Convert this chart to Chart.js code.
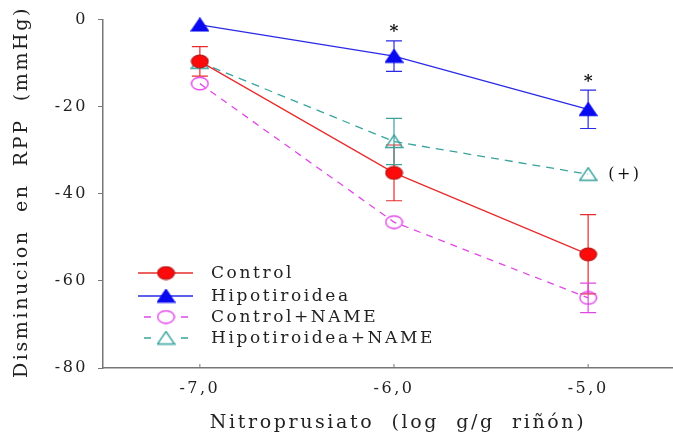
<!DOCTYPE html>
<html>
<head>
<meta charset="utf-8">
<script src="https://cdn.jsdelivr.net/npm/chart.js@4.4.1/dist/chart.umd.min.js"></script>
<style>
  html, body { margin: 0; padding: 0; background: #fff; overflow: hidden; }
  canvas { display: block; }
</style>
</head>
<body>
<canvas id="c" width="673" height="443"></canvas>
<script>
// Nitroprusiato dose (log g/g riñón)
const doses = [-7, -6, -5];
const doseLabels = ['-7,0', '-6,0', '-5,0'];

// Mean fall in RPP (mmHg) and standard error for each group
const control = [-9.6, -35.2, -53.9];
const controlErr = [3.4, 6.4, 9.1];
const hipo = [-1.2, -8.4, -20.6];
const hipoErr = [0, 3.5, 4.4];
const controlName = [-14.7, -46.5, -63.9];
const controlNameErr = [0, 0, 3.4];
const hipoName = [-9.8, -28.0, -35.5];
const hipoNameErr = [0, 5.3, 0];

// Significance marks: which dose carries '*' (Hipotiroidea) and '(+)' (Hipotiroidea+NAME)
const starDoses = [-6, -5];
const plusDoses = [-5];

const yTicks = [0, -20, -40, -60, -80];

const xTitle = 'Nitroprusiato  (log  g/g  riñón)';
const yTitle = 'Disminucion  en  RPP  (mmHg)';

const SERIF = '"DejaVu Serif", "Liberation Serif", serif';

// Slightly widened marker shapes drawn on small canvases
function marker(kind, color, stroke) {
  const w = 19, h = 15;
  const cv = document.createElement('canvas');
  cv.width = w; cv.height = h;
  const g = cv.getContext('2d');
  g.lineWidth = 1.4;
  g.beginPath();
  if (kind === 'ellipse') {
    g.ellipse(w / 2, h / 2, w / 2 - 1.2, h / 2 - 1.2, 0, 0, Math.PI * 2);
  } else {
    g.moveTo(w / 2, 1);
    g.lineTo(w - 1, h - 1.5);
    g.lineTo(1, h - 1.5);
    g.closePath();
  }
  if (color) { g.fillStyle = color; g.fill(); }
  g.strokeStyle = stroke;
  g.stroke();
  return cv;
}

const mkRed = marker('ellipse', '#ff0a0a', '#c01818');
const mkBlue = marker('triangle', '#0a0af0', '#0a0af0');
const mkPink = marker('ellipse', null, '#e040e8');
const mkTeal = marker('triangle', null, '#3aa39c');

function pts(ys) { return doses.map((x, i) => ({ x: x, y: ys[i] })); }

const series = [
  { label: 'Control', data: control, err: controlErr, color: '#e82c2c', pt: mkRed, dash: [] },
  { label: 'Hipotiroidea', data: hipo, err: hipoErr, color: '#2a2ae6', pt: mkBlue, dash: [] },
  { label: 'Control+NAME', data: controlName, err: controlNameErr, color: '#e048e6', pt: mkPink, dash: [7, 6] },
  { label: 'Hipotiroidea+NAME', data: hipoName, err: hipoNameErr, color: '#3aa39c', pt: mkTeal, dash: [8, 6] }
];

// Error bars (drawn under the markers)
const errorBars = {
  id: 'errorBars',
  beforeDatasetsDraw(chart) {
    const { ctx, scales: { x, y } } = chart;
    ctx.save();
    ctx.lineWidth = 1.2;
    chart.data.datasets.forEach((ds) => {
      ctx.strokeStyle = ds.borderColor;
      ds.data.forEach((p, i) => {
        const e = ds.errors[i];
        if (!e) return;
        const px = x.getPixelForValue(p.x);
        const top = y.getPixelForValue(p.y + e);
        const bot = y.getPixelForValue(p.y - e);
        ctx.beginPath();
        ctx.moveTo(px, top); ctx.lineTo(px, bot);
        ctx.moveTo(px - 8, top); ctx.lineTo(px + 8, top);
        ctx.moveTo(px - 8, bot); ctx.lineTo(px + 8, bot);
        ctx.stroke();
      });
    });
    ctx.restore();
  }
};

// Axis titles, inward tick marks on the dose axis, significance marks and the legend
const extras = {
  id: 'extras',
  beforeLayout(chart) { chart.ctx.letterSpacing = '2.5px'; },
  beforeDraw(chart) { chart.ctx.letterSpacing = '2.5px'; },
  afterDraw(chart) {
    const { ctx, scales: { x, y }, chartArea } = chart;
    ctx.save();
    ctx.strokeStyle = '#777';
    ctx.lineWidth = 1;
    doses.forEach((d) => {
      const px = x.getPixelForValue(d);
      ctx.beginPath();
      ctx.moveTo(px, chartArea.bottom);
      ctx.lineTo(px, chartArea.bottom - 4);
      ctx.stroke();
    });

    // axis titles
    ctx.fillStyle = '#222';
    ctx.textBaseline = 'middle';
    ctx.textAlign = 'center';
    ctx.font = '19px ' + SERIF;
    ctx.letterSpacing = '2.6px';
    ctx.fillText(xTitle, 398, 423);
    ctx.save();
    ctx.translate(22, 192);
    ctx.rotate(-Math.PI / 2);
    ctx.fillText(yTitle, 0, 0);
    ctx.restore();

    ctx.fillStyle = '#111';
    ctx.textAlign = 'center';
    ctx.letterSpacing = '0px';
    ctx.font = 'bold 17px ' + SERIF;
    starDoses.forEach((d) => {
      const i = doses.indexOf(d);
      const px = x.getPixelForValue(d);
      const py = y.getPixelForValue(hipo[i] + hipoErr[i]) - 9;
      ctx.fillText('*', px, py);
    });
    ctx.font = '16px ' + SERIF;
    ctx.letterSpacing = '2.5px';
    plusDoses.forEach((d) => {
      const i = doses.indexOf(d);
      const px = x.getPixelForValue(d);
      const py = y.getPixelForValue(hipoName[i]);
      ctx.textAlign = 'left';
      ctx.fillText('(+)', px + 20, py + 1);
    });

    // Legend
    const rows = [273, 296, 317, 338];
    chart.data.datasets.forEach((ds, k) => {
      const cy = rows[k];
      const cx = 166;
      ctx.strokeStyle = ds.borderColor;
      ctx.lineWidth = 1.4;
      ctx.setLineDash([]);
      ctx.beginPath();
      if (ds.borderDash.length) {
        ctx.moveTo(144, cy); ctx.lineTo(151, cy);
        ctx.moveTo(181, cy); ctx.lineTo(188, cy);
      } else {
        ctx.moveTo(138, cy); ctx.lineTo(193, cy);
      }
      ctx.stroke();
      const img = ds.pointStyle;
      ctx.drawImage(img, cx - img.width / 2, cy - img.height / 2);
      ctx.fillStyle = '#222';
      ctx.textAlign = 'left';
      ctx.font = '17px ' + SERIF;
      ctx.letterSpacing = '2.6px';
      ctx.fillText(ds.label, 211, cy + 1);
    });
    ctx.restore();
  }
};

new Chart(document.getElementById('c'), {
  type: 'line',
  data: {
    datasets: series.map((s) => ({
      label: s.label,
      data: pts(s.data),
      errors: s.err,
      borderColor: s.color,
      backgroundColor: s.color,
      borderWidth: 1.3,
      borderDash: s.dash,
      pointStyle: s.pt,
      // image markers keep their own size; a small radius keeps the plot area from being inset
      pointRadius: 1,
      pointBorderWidth: 0,
      pointHoverRadius: 1,
      tension: 0,
      fill: false,
      clip: false
    }))
  },
  options: {
    responsive: false,
    animation: false,
    events: [],
    layout: { padding: { top: 16, right: 0, left: 0, bottom: 0 } },
    plugins: { legend: { display: false }, tooltip: { enabled: false } },
    scales: {
      x: {
        type: 'linear',
        min: -7.499,
        max: -4.568,
        afterBuildTicks(scale) { scale.ticks = doses.map((v) => ({ value: v })); },
        afterFit(scale) { scale.height = 75; },
        grid: { display: true, drawOnChartArea: false, drawTicks: false },
        border: { display: true, color: '#777', width: 1.5 },
        ticks: {
          padding: 11,
          color: '#222',
          font: { family: SERIF, size: 16 },
          callback(v) { const i = doses.indexOf(v); return i >= 0 ? doseLabels[i] : ''; }
        }
      },
      y: {
        min: -80,
        max: 0,
        afterBuildTicks(scale) { scale.ticks = yTicks.map((v) => ({ value: v })); },
        afterFit(scale) { scale.width = 103; },
        grid: { display: true, drawOnChartArea: false, drawTicks: true, tickLength: 5, color: '#777' },
        border: { display: true, color: '#777', width: 1.5 },
        ticks: {
          padding: 10,
          color: '#222',
          font: { family: SERIF, size: 16 }
        }
      }
    }
  },
  plugins: [errorBars, extras]
});
</script>
</body>
</html>
